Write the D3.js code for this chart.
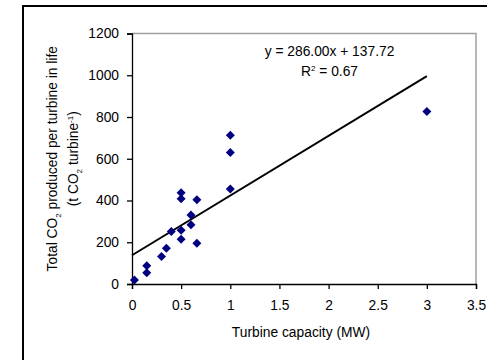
<!DOCTYPE html>
<html lang="en">
  <head>
    <meta charset="UTF-8" />
    <title>Turbine capacity vs CO2</title>
    <script src="https://d3js.org/d3.v7.min.js"></script>
    <style>
      body {
        margin: 0;
        background: #ffffff;
        font-family: "Liberation Sans", Arial, sans-serif;
      }
      svg text {
        fill: #000;
      }
    </style>
  </head>
  <body>
    <div id="chart"></div>
    <script>
      // Data
      const capacity = [0.025, 0.15, 0.15, 0.3, 0.35, 0.4, 0.5, 0.5, 0.5, 0.5, 0.6, 0.6, 0.66, 0.66, 1, 1, 1, 3];
      const co2 = [19, 88, 54, 132, 171, 252, 437, 408, 258, 214, 330, 284, 404, 195, 713, 630, 455, 826];
      const xTicks = [0, 0.5, 1, 1.5, 2, 2.5, 3, 3.5];
      const yTicks = [0, 200, 400, 600, 800, 1000, 1200];
      const slope = 286.0;
      const intercept = 137.72;
      const r2 = 0.67;
      const trendX = [0, 3];

      const width = 487, height = 360;
      const margin = { top: 33.5, right: 11, bottom: 76, left: 132 };
      const fs = "13.8px";

      const svg = d3
        .select("#chart")
        .append("svg")
        .attr("width", width)
        .attr("height", height);

      // outer frame
      svg
        .append("path")
        .attr("d", `M23,${height + 2} V6 H${width + 2}`)
        .attr("fill", "none")
        .attr("stroke", "#000")
        .attr("stroke-width", 2);

      const x = d3.scaleLinear().domain([0, 3.5]).range([margin.left, width - margin.right]);
      const y = d3.scaleLinear().domain([0, 1200]).range([height - margin.bottom, margin.top]);

      // plot area border (gray top/right)
      svg
        .append("path")
        .attr("d", `M${x(0)},${y(1200)} H${x(3.5)} V${y(0)}`)
        .attr("fill", "none")
        .attr("stroke", "#a0a0a0")
        .attr("stroke-width", 1.5);

      // axes
      const xAxis = svg
        .append("g")
        .attr("transform", `translate(0,${y(0)})`)
        .call(d3.axisBottom(x).tickValues(xTicks).tickFormat(d3.format("")).tickSizeOuter(0).tickSize(5).tickPadding(11));
      const yAxis = svg
        .append("g")
        .attr("transform", `translate(${x(0)},0)`)
        .call(d3.axisLeft(y).tickValues(yTicks).tickFormat(d3.format("d")).tickSizeOuter(0).tickSize(5).tickPadding(8));

      [xAxis, yAxis].forEach((g) => {
        g.select(".domain").attr("stroke", "#000").attr("stroke-width", 1.3);
        g.selectAll(".tick line").attr("stroke", "#000").attr("stroke-width", 1.3);
        g.selectAll("text").style("font-size", fs).style("font-family", "Liberation Sans, Arial, sans-serif");
      });

      // trendline
      svg
        .append("line")
        .attr("x1", x(trendX[0]))
        .attr("y1", y(slope * trendX[0] + intercept))
        .attr("x2", x(trendX[1]))
        .attr("y2", y(slope * trendX[1] + intercept))
        .attr("stroke", "#000")
        .attr("stroke-width", 2);

      // points
      const pts = capacity.map((c, i) => ({ c, v: co2[i] }));
      svg
        .selectAll(".pt")
        .data(pts)
        .enter()
        .append("path")
        .attr("class", "pt")
        .attr("transform", (d) => `translate(${x(d.c)},${y(d.v)})`)
        .attr("d", "M0,-4.5 L4.5,0 L0,4.5 L-4.5,0 Z")
        .attr("fill", "#000080");

      // equation
      const eq = svg.append("g").style("font-size", fs).attr("text-anchor", "middle");
      eq.append("text")
        .attr("x", 329.5)
        .attr("y", 56)
        .text(`y = ${slope.toFixed(2)}x + ${intercept.toFixed(2)}`);
      const rt = eq.append("text").attr("x", 329.5).attr("y", 76);
      rt.append("tspan").text("R");
      rt.append("tspan").attr("dy", -5).style("font-size", "8px").text("2");
      rt.append("tspan").attr("dy", 5).text(` = ${r2.toFixed(2)}`);

      // x title
      svg
        .append("text")
        .attr("x", (x(0) + x(3.5)) / 2 - 3)
        .attr("y", 337)
        .attr("text-anchor", "middle")
        .style("font-size", fs)
        .text("Turbine capacity (MW)");

      // y title, two lines
      const cy = (y(0) + y(1200)) / 2;
      const yt = svg
        .append("g")
        .attr("transform", `translate(0,${cy}) rotate(-90)`)
        .attr("text-anchor", "middle")
        .style("font-size", fs);
      const l1 = yt.append("text").attr("x", 0).attr("y", 56.5);
      l1.append("tspan").text("Total CO");
      l1.append("tspan").attr("dy", 4).style("font-size", "8px").text("2");
      l1.append("tspan").attr("dy", -4).text(" produced per turbine in life");
      const l2 = yt.append("text").attr("x", 0).attr("y", 77.5);
      l2.append("tspan").text("(t CO");
      l2.append("tspan").attr("dy", 4).style("font-size", "8px").text("2");
      l2.append("tspan").attr("dy", -4).text(" turbine");
      l2.append("tspan").attr("dy", -5).style("font-size", "8px").text("-1");
      l2.append("tspan").attr("dy", 5).text(")");
    </script>
  </body>
</html>
